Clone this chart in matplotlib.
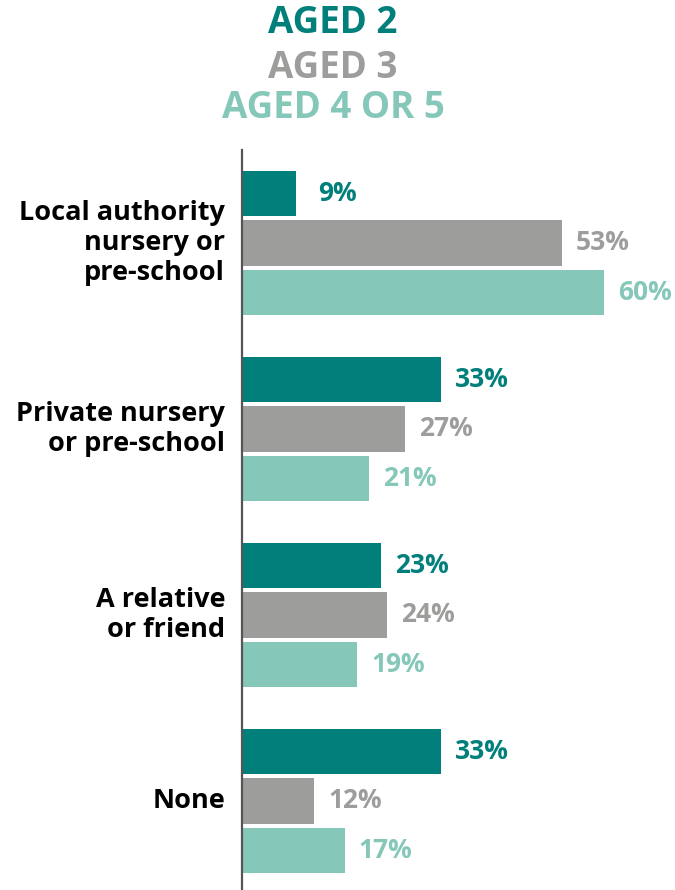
import matplotlib
matplotlib.use("Agg")
import matplotlib.pyplot as plt

categories = ["Local authority\nnursery or\npre-school", "Private nursery\nor pre-school",
              "A relative\nor friend", "None"]
series_names = ["AGED 2", "AGED 3", "AGED 4 OR 5"]
aged2 = [9, 33, 23, 33]
aged3 = [53, 27, 24, 12]
aged45 = [60, 21, 19, 17]
colors = ["#007F7B", "#9D9D9C", "#85C8B9"]

FONT = "Open Sans"
W, H, DPI = 675, 890, 100
fig = plt.figure(figsize=(W / DPI, H / DPI), dpi=DPI)
ax_left, ax_top = 242, 150
ax = fig.add_axes([ax_left / W, 0, 1 - ax_left / W, 1 - ax_top / H])
ax.set_xlim(0, (W - ax_left) / 6.04)
ax.set_ylim(-0.5 + (H - ax_top) / 186, -0.5)

step, bh = 0.266, 0.242
for j, vals in enumerate([aged2, aged3, aged45]):
    for i, v in enumerate(vals):
        y = i + (j - 1) * step
        ax.barh(y, v, height=bh, color=colors[j], zorder=2)
        ax.annotate(f"{v}%", (v, y), xytext=(29.5, 0), textcoords="offset points",
                    ha="center", va="center", fontsize=19, fontweight="bold",
                    color=colors[j], family=FONT, zorder=3)

# faint leftover label partly hidden behind the bars
ax.text(24.7, 0.122, "18%", ha="center", va="baseline", fontsize=19, fontweight="bold",
        color=colors[2], family=FONT, zorder=1)

for i, c in enumerate(categories):
    ax.text(-17 / 6.04, i, c, ha="right", va="center", fontsize=19.5, fontweight="bold",
            color="black", family=FONT, linespacing=1.22)

for s in ["top", "right", "bottom"]:
    ax.spines[s].set_visible(False)
ax.spines["left"].set_color("#555555")
ax.spines["left"].set_linewidth(1.6)
ax.set_xticks([])
ax.set_yticks([])

title_y = [23, 68, 108]
for name, col, ty in zip(series_names, colors, title_y):
    fig.text(333 / W, 1 - ty / H, name, ha="center", va="center", fontsize=26.5,
             fontweight="bold", color=col, family=FONT)

fig.savefig("out.png", dpi=DPI)
